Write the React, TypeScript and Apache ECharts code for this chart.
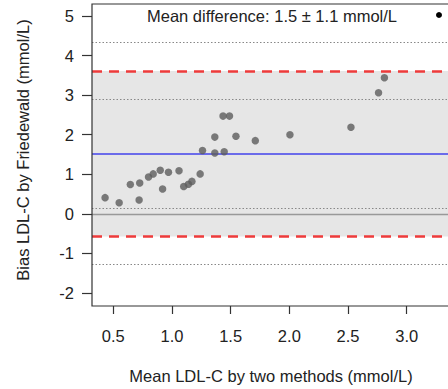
import React, { useEffect, useRef } from "react";
import * as echarts from "echarts";

// Mean LDL-C by two methods (mmol/L)
const meanLdl = [
  0.43, 0.55, 0.645, 0.72, 0.725, 0.80, 0.84, 0.90, 0.92, 0.97,
  1.06, 1.10, 1.14, 1.17, 1.24, 1.26, 1.365, 1.365, 1.445, 1.435,
  1.49, 1.545, 1.71, 2.005, 2.525, 2.76, 2.81,
];
// Bias LDL-C by Friedewald (mmol/L)
const biasLdl = [
  0.41, 0.28, 0.74, 0.35, 0.78, 0.93, 1.01, 1.10, 0.63, 1.05,
  1.09, 0.69, 0.75, 0.82, 1.01, 1.60, 1.94, 1.54, 1.57, 2.47,
  2.47, 1.96, 1.85, 2.00, 2.19, 3.06, 3.44,
];
const meanDiff = 1.52;
const upperLoA = 3.61;
const lowerLoA = -0.57;
const ciLines = [4.33, 2.9, 0.14, -1.27];
const xTicks = [0.5, 3.0, 0.5]; // min, max, step
const yTicks = [-2, 5, 1];
const legendText = "Mean difference: 1.5 \u00b1 1.1 mmol/L";
const xTitle = "Mean LDL-C by two methods (mmol/L)";
const yTitle = "Bias LDL-C by Friedewald (mmol/L)";

const FONT = "'Liberation Sans', Arial, Helvetica, sans-serif";

export default function App() {
  const ref = useRef<HTMLDivElement>(null);
  useEffect(() => {
    document.body.style.margin = "0";
    if (!ref.current) return;
    const chart = echarts.init(ref.current, undefined, { renderer: "svg" });

    // pixel mapping
    const xPx0 = 113.3; // pixel of x=0.5
    const xScale = 117.36; // px per unit
    const yPx5 = 16; // pixel of y=5
    const yScale = 39.571;
    const gLeft = 92, gTop = 4, gWidth = 356, gHeight = 302;
    const xMin = 0.5 - (xPx0 - gLeft) / xScale;
    const xMax = xMin + gWidth / xScale;
    const yMax = 5 + (yPx5 - gTop) / yScale;
    const yMin = yMax - gHeight / yScale;

    const points = meanLdl.map((x, i) => [x, biasLdl[i]]);

    const hiddenAxis = { show: false };

    chart.setOption({
      animation: false,
      textStyle: { fontFamily: FONT },
      grid: [
        { left: gLeft, top: gTop, width: gWidth, height: gHeight },
        {
          left: xPx0, top: gTop,
          width: (xTicks[1] - xTicks[0]) * xScale, height: gHeight,
        },
        {
          left: gLeft, top: yPx5, width: 300,
          height: (yTicks[1] - yTicks[0]) * yScale,
        },
      ],
      xAxis: [
        { type: "value", gridIndex: 0, min: xMin, max: xMax, ...hiddenAxis },
        {
          type: "value", gridIndex: 1, min: xTicks[0], max: xTicks[1], interval: xTicks[2],
          offset: 9,
          axisLine: { show: false },
          axisTick: { show: true, length: 8, lineStyle: { color: "#333", width: 1.2 } },
          splitLine: { show: false },
          axisLabel: {
            margin: 12, fontSize: 16.5, color: "#222", fontFamily: FONT,
            formatter: (v: number) => v.toFixed(1),
          },
        },
        { type: "value", gridIndex: 2, min: 0, max: 1, ...hiddenAxis },
      ],
      yAxis: [
        { type: "value", gridIndex: 0, min: yMin, max: yMax, ...hiddenAxis },
        { type: "value", gridIndex: 1, min: 0, max: 1, ...hiddenAxis },
        {
          type: "value", gridIndex: 2, min: yTicks[0], max: yTicks[1], interval: yTicks[2],
          axisLine: { show: false },
          axisTick: { show: true, length: 10, lineStyle: { color: "#333", width: 1.2 } },
          splitLine: { show: false },
          axisLabel: { margin: 18, fontSize: 16.5, color: "#222", fontFamily: FONT },
        },
      ],
      series: [
        {
          type: "scatter",
          xAxisIndex: 0, yAxisIndex: 0,
          data: [],
          z: 1,
          silent: true,
          markArea: {
            silent: true,
            itemStyle: { color: "#e6e6e6" },
            data: [[{ yAxis: lowerLoA }, { yAxis: upperLoA }]],
          },
          markLine: {
            silent: true,
            symbol: "none",
            label: { show: false },
            data: [
              ...ciLines.map((v) => ({
                yAxis: v,
                lineStyle: { color: "#888", type: [1.5, 2], width: 1 },
              })),
              { yAxis: 0, lineStyle: { color: "#999", type: "solid", width: 1.3 } },
              { yAxis: meanDiff, lineStyle: { color: "#6b6bea", type: "solid", width: 2 } },
              { yAxis: upperLoA, lineStyle: { color: "#ee3b3b", type: [10, 7], width: 2.5 } },
              { yAxis: lowerLoA, lineStyle: { color: "#ee3b3b", type: [10, 7], width: 2.5 } },
            ],
          },
        },
        {
          type: "scatter",
          xAxisIndex: 0, yAxisIndex: 0,
          data: points,
          symbol: "circle",
          symbolSize: 7.5,
          itemStyle: { color: "#5c5c5c" },
          z: 5,
        },
      ],
      graphic: [
        {
          type: "polyline",
          shape: { points: [[460, gTop], [gLeft, gTop], [gLeft, gTop + gHeight], [460, gTop + gHeight]] },
          style: { stroke: "#333", lineWidth: 1.2, fill: "none" },
          z: 20,
        },
        {
          type: "text", x: 272, y: 16,
          style: {
            text: legendText, font: `16.5px ${FONT}`, fill: "#222",
            align: "center", verticalAlign: "middle",
          },
          z: 10,
        },
        {
          type: "circle", shape: { cx: 439, cy: 15, r: 3 },
          style: { fill: "#000" }, z: 10,
        },
        {
          type: "text", x: 271, y: 376,
          style: {
            text: xTitle, font: `16.5px ${FONT}`, fill: "#222",
            align: "center", verticalAlign: "middle",
          },
        },
        {
          type: "text", x: 23, y: 150, rotation: Math.PI / 2,
          style: {
            text: yTitle, font: `16.5px ${FONT}`, fill: "#222",
            align: "center", verticalAlign: "middle",
          },
        },
      ],
    });
    return () => chart.dispose();
  }, []);
  return <div ref={ref} style={{ width: 448, height: 389 }} />;
}
